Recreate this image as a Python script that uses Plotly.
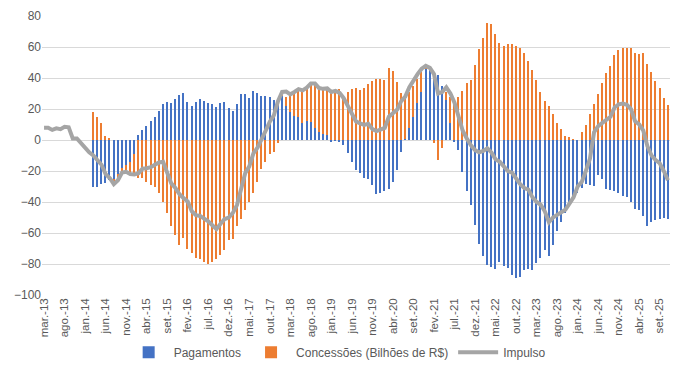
import plotly.graph_objects as go

# Monthly categories: mar.-13 ... nov.-25
month_abbr = ["jan.", "fev.", "mar.", "abr.", "mai.", "jun.",
              "jul.", "ago.", "set.", "out.", "nov.", "dez."]
categories = []
y, m = 2013, 3
while (y, m) <= (2025, 11):
    categories.append(f"{month_abbr[m-1]}-{str(y)[2:]}")
    m += 1
    if m > 12:
        m, y = 1, y + 1

N_NONE = [None] * 12

pagamentos = N_NONE + [
    -30, -30, -28.5, -28, -26, -25, -22, -18, -16, -14,
    -9, 3.5, 6.5, 9, 12, 14.6, 18.6, 23, 24.2, 24,
    26.6, 29, 30.6, 24.6, 22, 24.2, 26.4, 25, 24, 23,
    21.4, 23.6, 24.6, 20.4, 18.6, 23, 29.6, 30, 27.4, 31.5,
    30.4, 28.3, 28.3, 28, 25.7, 25.7, 29, 22, 18, 15.4,
    15, 11, 12.4, 11.8, 7.5, 5, 3.6, 3.2, -1, -0.5,
    -1, -3.2, -8.6, -14.4, -19.5, -21.4, -24.6, -25, -29, -34.7,
    -33.9, -32.6, -31.7, -26.8, -19.3, -7.9, 0.5, 7.5, 15, 23.6,
    31, 46, 45, 42, 41.8, 34.7, 25.7, 10.7, -1, -6.4,
    -20.5, -33.2, -42.2, -54.6, -66.9, -75, -80.4, -82, -83, -79,
    -81.4, -82.5, -86.8, -88.9, -88.3, -84, -83, -83.6, -79.3, -76,
    -71, -75, -68, -59, -53, -47, -40.7, -37, -34, -31,
    -28.3, -29, -29.6, -22.5, -25, -31.5, -32, -33.2, -33.9, -36.4,
    -37, -40.3, -44.6, -45.4, -48.9, -55.3, -53, -51.4, -51, -50.4,
    -51,
]

concessoes = N_NONE + [
    18, 15, 10.7, 2.8, 1.5, -3, -4, -3, -4, -7,
    -13.5, -24.5, -24.5, -26.8, -29, -30, -34, -40, -47, -55.7,
    -61, -67.5, -63, -70, -72.9, -76, -77, -79, -79.7, -79,
    -77, -74, -70.7, -64.3, -63.6, -55.7, -50.8, -45, -40, -34,
    -27, -19, -14, -9, -7.5, -2, 1, 6, 12.4, 15.6,
    17, 22, 22.3, 24.6, 30, 29, 29.4, 29.4, 30.4, 30.4,
    32.6, 29, 31, 33, 33.6, 32, 33.6, 36.4, 38, 39.6,
    39.6, 38.6, 46.5, 44.6, 37.5, 30.4, 27.4, 23.5, 20, 16,
    13, 2, 1.5, -2, -12.9, -5.4, 5.3, 17, 25, 27.9,
    31.7, 36.9, 39, 48.6, 58.5, 66, 75.4, 74.6, 68.6, 62.8,
    60.4, 62, 62, 60.4, 59.4, 56.4, 50.8, 45.4, 38.6, 31,
    25.3, 21.9, 17, 10.7, 6.9, 2.6, 1.7, 0.5, 0, 5.4,
    9.4, 17, 23, 29.4, 36.9, 43.3, 47.8, 54.6, 57.9, 59.4,
    59.6, 59.4, 56.4, 55.7, 56.4, 49.3, 43.9, 37.9, 33.6, 27.4,
    22.9,
]

impulso = [
    7.9, 7.9, 6.5, 7.5, 7, 8.5, 8.2, 1, 1, -2,
    -5, -8, -10, -13, -16, -22, -24.5, -28.5, -26, -21,
    -20.5, -22, -22.3, -21.4, -18.5, -18.2, -17.5, -16, -14.5, -14,
    -22, -28, -31, -35, -37.5, -39.6, -46, -48.5, -49, -50.5,
    -52.5, -55, -57.5, -54, -51, -50, -47, -42, -32, -21.4,
    -17, -8.6, -5, 0, 6, 11.8, 16, 25, 31, 31.3,
    29.5, 31, 32.8, 32, 33.8, 36.5, 36.5, 33.5, 33, 33.3,
    31, 31.7, 30.4, 27, 22, 17.5, 12, 10.7, 9.8, 10.5,
    7, 5.8, 6.5, 7.8, 15, 17.5, 19.5, 25, 28, 34,
    38.6, 42.5, 46, 47.8, 46.5, 42.5, 30, 31, 34, 30,
    24, 15, 6, 1, -3.5, -6.5, -8, -7, -5.4, -8,
    -12.5, -14, -17, -20, -21, -25, -28.5, -31, -32, -37,
    -40, -41.8, -46, -53, -50, -48.3, -46.5, -45, -41, -37,
    -30, -27, -20, -12, 5, 9, 11, 13, 15, 21,
    23, 23.5, 22.7, 20, 12, 10, 6, -4, -10, -13,
    -15, -20, -26,
]

tick_labels = categories[::5]

FONT = "Liberation Sans"
TXT = "#595959"

fig = go.Figure()
fig.add_trace(go.Bar(x=categories, y=pagamentos, name="Pagamentos",
                     marker=dict(color="#4472C4", line=dict(width=0)),
                     width=0.36))
fig.add_trace(go.Bar(x=categories, y=concessoes,
                     name="Concessões (Bilhões de R$)",
                     marker=dict(color="#ED7D31", line=dict(width=0)),
                     width=0.36))
fig.add_trace(go.Scatter(x=categories, y=impulso, name="Impulso",
                         mode="lines",
                         line=dict(color="#A5A5A5", width=4)))

# The page body has an 8px default margin, so the figure is sized to fit
fig.update_layout(
    width=669, height=368,
    margin=dict(l=34, r=7, t=8, b=81, autoexpand=False),
    barmode="relative",
    bargap=0,
    paper_bgcolor="white",
    plot_bgcolor="white",
    font=dict(family=FONT, color=TXT, size=11),
    showlegend=True,
    legend=dict(orientation="h", x=0.47, xanchor="center",
                y=-0.205, yanchor="middle",
                font=dict(family=FONT, size=12, color=TXT),
                traceorder="normal", itemwidth=40),
)
fig.update_xaxes(
    type="category",
    categoryorder="array", categoryarray=categories,
    tickmode="array", tickvals=tick_labels, ticktext=tick_labels,
    tickangle=-90,
    tickfont=dict(family=FONT, size=11.5, color=TXT),
    showgrid=False, showline=False, ticks="",
    automargin=False,
    range=[-0.5, len(categories) - 0.5],
)
fig.update_yaxes(
    range=[-100, 80], dtick=20,
    tickfont=dict(family=FONT, size=12, color=TXT),
    showgrid=True, gridcolor="#D9D9D9", gridwidth=1,
    zeroline=True, zerolinecolor="#D9D9D9", zerolinewidth=1,
    showline=False, ticks="", automargin=False,
)

fig.write_html("out.html")
